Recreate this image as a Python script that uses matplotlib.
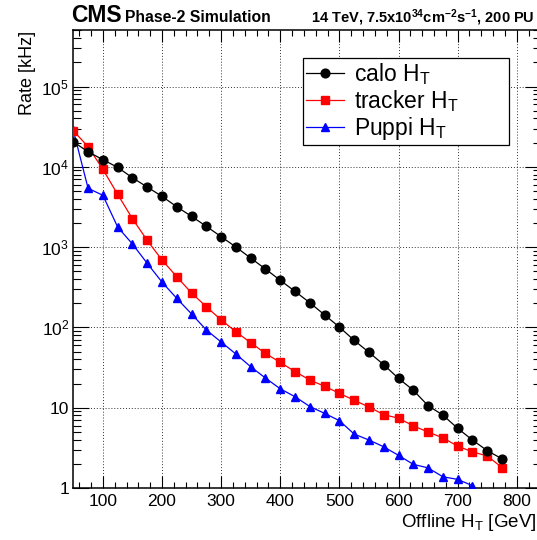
import matplotlib
matplotlib.use("Agg")
import matplotlib.pyplot as plt
from matplotlib.ticker import FixedLocator, MultipleLocator, LogLocator, NullFormatter, FixedFormatter

plt.rcParams['font.family'] = ['Liberation Sans', 'DejaVu Sans']
plt.rcParams['mathtext.fontset'] = 'custom'
plt.rcParams['mathtext.rm'] = 'Liberation Sans'
plt.rcParams['mathtext.it'] = 'Liberation Sans:italic'
plt.rcParams['mathtext.bf'] = 'Liberation Sans:bold'

# Offline HT thresholds [GeV]
ht = [50, 75, 100, 125, 150, 175, 200, 225, 250, 275, 300, 325, 350, 375, 400,
      425, 450, 475, 500, 525, 550, 575, 600, 625, 650, 675, 700, 725, 750, 775]

# Trigger rates [kHz]
calo_rate = [20500, 15400, 12270, 9850, 7310, 5600, 4290, 3180, 2415, 1815, 1350, 1002,
             731, 534, 386, 281, 203, 143, 101, 69, 49, 34.3, 23.2, 16.5, 10.6, 8.1,
             5.54, 3.96, 2.92, 2.31]
tracker_rate = [28200, 17800, 9310, 4540, 2260, 1213, 691, 428, 268, 181, 124, 88.4,
                64.5, 47.5, 36.6, 28.2, 22.1, 18.5, 15.1, 12.4, 10.2, 8.2, 7.4, 5.95,
                4.97, 4.22, 3.32, 2.82, 2.51, 1.80]
puppi_ht = [50, 75, 100, 125, 150, 175, 200, 225, 250, 275, 300, 325, 350, 375, 400,
            425, 450, 475, 500, 525, 550, 575, 600, 625, 650, 675, 700, 725]
puppi_rate = [28600, 5400, 4420, 1780, 1094, 628, 367, 230, 147, 92.9, 65.8, 46.6,
              32.4, 23.4, 17.2, 13.7, 10.35, 8.5, 6.9, 4.70, 3.96, 3.26, 2.55, 1.97,
              1.78, 1.38, 1.28, 1.07]

series_labels = [r'calo H$_{\mathrm{T}}$', r'tracker H$_{\mathrm{T}}$', r'Puppi H$_{\mathrm{T}}$']

y_ticks = [1, 10, 100, 1000, 1e4, 1e5]
y_tick_labels = ['1', '10', r'10$^{2}$', r'10$^{3}$', r'10$^{4}$', r'10$^{5}$']
x_ticks = [100, 200, 300, 400, 500, 600, 700, 800]

W, H = 537, 540
fig = plt.figure(figsize=(W / 100, H / 100), dpi=100)
ax = fig.add_axes([73.3 / W, 1 - 488 / H, (541 - 73.3) / W, (488 - 30.4) / H])

ax.set_yscale('log')
ax.set_xlim(50, 841)
ax.set_ylim(1, 5e5)

ax.plot(ht, calo_rate, color='black', lw=0.9, marker='o', ms=6.3,
        label=series_labels[0], zorder=5)
ax.plot(ht, tracker_rate, color='#ff0000', lw=0.9, marker='s', ms=5.8,
        label=series_labels[1], zorder=4)
ax.plot(puppi_ht, puppi_rate, color='#0000ff', lw=0.9, marker='^', ms=6.3,
        label=series_labels[2], zorder=3)

# ticks on all four sides, pointing inwards
ax.xaxis.set_major_locator(FixedLocator(x_ticks))
ax.xaxis.set_minor_locator(MultipleLocator(20))
ax.yaxis.set_major_locator(FixedLocator(y_ticks))
ax.yaxis.set_major_formatter(FixedFormatter(y_tick_labels))
ax.yaxis.set_minor_locator(LogLocator(base=10, subs=range(2, 10), numticks=20))
ax.yaxis.set_minor_formatter(NullFormatter())
ax.tick_params(axis='both', which='both', direction='in', top=True, right=True,
               width=0.8, colors='black', labelsize=12.5)
ax.tick_params(axis='x', which='major', length=8.6, pad=4)
ax.tick_params(axis='x', which='minor', length=4.3)
ax.tick_params(axis='y', which='major', length=11.5, pad=3)
ax.tick_params(axis='y', which='minor', length=5.8)
for s in ax.spines.values():
    s.set_linewidth(1.1)

ax.grid(True, which='major', linestyle=(0, (1, 2)), color='black', lw=0.7, alpha=0.8)
ax.set_axisbelow(True)

ax.set_xlabel(r'Offline H$_{\mathrm{T}}$ [GeV]', fontsize=13.5, ha='right')
ax.xaxis.set_label_coords((536 - 73.3) / (541 - 73.3), -0.052)
ax.set_ylabel('Rate [kHz]', fontsize=13, loc='top', labelpad=4)

leg = ax.legend(loc='upper left',
                bbox_to_anchor=(303 / W, 1 - 145 / H, 206 / W, 87 / H),
                bbox_transform=fig.transFigure, mode='expand', borderaxespad=0,
                fontsize=16.5, frameon=True, fancybox=False, edgecolor='black',
                framealpha=1, handlelength=1.65, handletextpad=0.45, borderpad=0.12,
                labelspacing=0.05)
leg.get_frame().set_linewidth(0.9)

fig.text(71 / W, 1 - 22 / H, 'CMS', fontsize=16.5, fontweight='bold', va='baseline')
fig.text(125 / W, 1 - 22 / H, 'Phase-2 Simulation', fontsize=11.3, fontweight='bold',
         va='baseline')
fig.text(535 / W, 1 - 22 / H,
         r'14 TeV, 7.5x10$^{\mathbf{34}}$cm$^{\mathbf{-2}}$s$^{\mathbf{-1}}$, 200 PU',
         fontsize=10.5, fontweight='bold', va='baseline', ha='right')

fig.savefig('out.png', dpi=100)
